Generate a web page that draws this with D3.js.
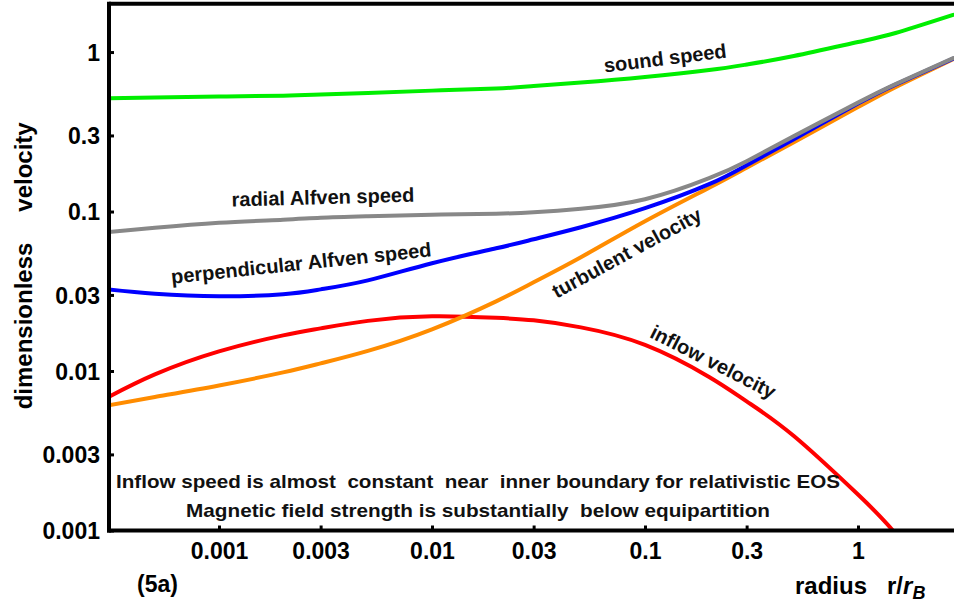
<!DOCTYPE html>
<html><head><meta charset="utf-8">
<script src="https://cdn.jsdelivr.net/npm/d3@7"></script>
<style>
html,body{margin:0;padding:0;background:#fff;}
svg{display:block;font-family:"Liberation Sans",Arial,Helvetica,sans-serif;font-weight:bold;}
</style></head>
<body>
<svg id="chart" width="954" height="608"></svg>
<script>
// ---- data ----
const radius = [3e-4, 5e-4, 0.001, 0.002, 0.003, 0.005, 0.01, 0.02, 0.03, 0.05, 0.1, 0.2, 0.3, 0.5, 1, 1.5, 2.8];
const soundSpeed = [0.514, 0.518, 0.526, 0.533, 0.541, 0.553, 0.573, 0.590, 0.612, 0.644, 0.697, 0.771, 0.835, 0.944, 1.155, 1.316, 1.71];
const radialAlfven = [0.0742, 0.0791, 0.0851, 0.0888, 0.0914, 0.0934, 0.0955, 0.0969, 0.0990, 0.1041, 0.1194, 0.1618, 0.2069, 0.2970, 0.4819, 0.6297, 0.917];
const perpAlfven = [0.0325, 0.0305, 0.0294, 0.0303, 0.0325, 0.0370, 0.0474, 0.0588, 0.0670, 0.0797, 0.1049, 0.1484, 0.1953, 0.2843, 0.4751, 0.6252, 0.910];
const turbulentVel = [0.00608, 0.00688, 0.00812, 0.00980, 0.01116, 0.01337, 0.01825, 0.02734, 0.03598, 0.05165, 0.0869, 0.1411, 0.1884, 0.2723, 0.4516, 0.6029, 0.9039];
const inflowVel = [0.00683, 0.00952, 0.01327, 0.01673, 0.01851, 0.02063, 0.02202, 0.02154, 0.02078, 0.01878, 0.01458, 0.00918, 0.00645, 0.00391, 0.00168, 0.000956, 0.000338];

const xTicks = [0.001, 0.003, 0.01, 0.03, 0.1, 0.3, 1];
const xTickLabels = ["0.001", "0.003", "0.01", "0.03", "0.1", "0.3", "1"];
const yTicks = [0.001, 0.003, 0.01, 0.03, 0.1, 0.3, 1];
const yTickLabels = ["0.001", "0.003", "0.01", "0.03", "0.1", "0.3", "1"];

const seriesNames = ["inflow velocity", "turbulent velocity", "perpendicular Alfven speed", "radial Alfven speed", "sound speed"];
const seriesColors = ["#ff0000", "#ff8c00", "#0000ff", "#888888", "#00ee00"];
const seriesValues = [inflowVel, turbulentVel, perpAlfven, radialAlfven, soundSpeed];
// label anchor positions (data coords) and rotation
const labelR = [0.202, 0.085, 0.00245, 0.00308, 0.1255];
const labelV = [0.01044, 0.0504, 0.043, 0.1114, 0.829];
const labelRot = [27, -28.5, -6, -1.5, -7];

const notes = ["Inflow speed is almost  constant  near  inner boundary for relativistic EOS",
               "Magnetic field strength is substantially  below equipartition"];
const noteWidths = [724, 584];

// ---- layout ----
const svg = d3.select("#chart");
const L = 109, R = 954, T = 3.7, B = 530.5;
const x = d3.scaleLog().domain([3.045e-4, 2.823]).range([L, R]);
const y = d3.scaleLog().domain([0.001, 2.01]).range([B, T]);

svg.append("defs").append("clipPath").attr("id","clip")
  .append("rect").attr("x", L).attr("y", T).attr("width", R - L).attr("height", B - T);

const line = d3.line().curve(d3.curveNatural);
const g = svg.append("g").attr("clip-path","url(#clip)");
seriesValues.forEach((vals, i) => {
  const pts = radius.map((r, j) => [x(r), y(vals[j])]);
  g.append("path").attr("d", line(pts)).attr("fill","none")
    .attr("stroke", seriesColors[i]).attr("stroke-width", 4).attr("stroke-linecap","round");
});

// frame
svg.append("line").attr("x1", L).attr("x2", R).attr("y1", T).attr("y2", T).attr("stroke","#000").attr("stroke-width",4);

// axes
const xAxis = d3.axisBottom(x).tickValues(xTicks).tickFormat((d,i)=>xTickLabels[i]).tickSizeInner(-5).tickSizeOuter(0).tickPadding(7);
const gx = svg.append("g").attr("transform", `translate(0,${B})`).call(xAxis);
gx.select(".domain").attr("stroke","#000").attr("stroke-width",4).attr("d", `M${L-2},0H${R}`);
gx.selectAll(".tick line").attr("stroke","#000").attr("stroke-width",3);
gx.selectAll(".tick text").attr("fill","#000").style("font-size","23px").style("font-weight","bold").attr("dy","0.95em");

const yAxis = d3.axisLeft(y).tickValues(yTicks).tickFormat((d,i)=>yTickLabels[i]).tickSizeInner(-5).tickSizeOuter(0).tickPadding(9);
const gy = svg.append("g").attr("transform", `translate(${L},0)`).call(yAxis);
gy.select(".domain").attr("stroke","#000").attr("stroke-width",4).attr("d", `M0,${T-2}V${B+2}`);
gy.selectAll(".tick line").attr("stroke","#000").attr("stroke-width",3);
gy.selectAll(".tick text").attr("fill","#000").style("font-size","23px").style("font-weight","bold").attr("dy","0.36em");

// curve labels
seriesNames.forEach((name, i) => {
  const px = x(labelR[i]), py = y(labelV[i]);
  svg.append("text").attr("transform", `translate(${px},${py}) rotate(${labelRot[i]})`)
    .attr("text-anchor","middle").style("font-size","20px").attr("fill","#111").text(name);
});

// notes
notes.forEach((t, i) => {
  svg.append("text").attr("x", 478).attr("y", 488 + i * 29).attr("text-anchor","middle")
    .attr("textLength", noteWidths[i]).attr("lengthAdjust","spacingAndGlyphs")
    .attr("xml:space","preserve").style("white-space","pre").style("font-size","19px").attr("fill","#111").text(t);
});

// axis titles
svg.append("text").attr("transform","translate(32,167) rotate(-90)").attr("text-anchor","middle")
  .style("font-size","24px").text("velocity");
svg.append("text").attr("transform","translate(32,326) rotate(-90)").attr("text-anchor","middle")
  .style("font-size","24px").text("dimensionless");

const xt = svg.append("text").attr("x", 795).attr("y", 594).style("font-size","24px").attr("xml:space","preserve").style("white-space","pre");
xt.append("tspan").text("radius   r/");
xt.append("tspan").style("font-style","italic").text("r");
xt.append("tspan").style("font-style","italic").style("font-size","18px").attr("dy", 5).text("B");

svg.append("text").attr("x", 137).attr("y", 592).style("font-size","23px").text("(5a)");
</script>
</body></html>
